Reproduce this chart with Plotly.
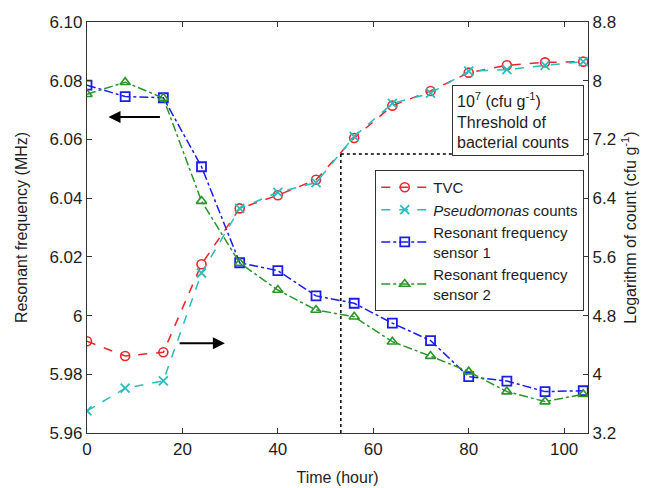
import plotly.graph_objects as go

# Storage time (hours)
hours = [0, 8, 16, 24, 32, 40, 48, 56, 64, 72, 80, 88, 96, 104]

# Log10 bacterial counts (cfu g^-1)
tvc = [4.45, 4.25, 4.30, 5.50, 6.26, 6.44, 6.65, 7.22, 7.66, 7.86, 8.11, 8.21, 8.25, 8.26]
pseudomonas = [3.50, 3.81, 3.91, 5.38, 6.26, 6.48, 6.61, 7.24, 7.69, 7.83, 8.13, 8.15, 8.21, 8.26]

# Resonant frequency (MHz)
sensor1 = [6.0785, 6.0746, 6.0742, 6.0507, 6.0180, 6.0153, 6.0067, 6.0042,
           5.9974, 5.9915, 5.9792, 5.9777, 5.9741, 5.9744]
sensor2 = [6.0754, 6.0795, 6.0741, 6.0390, 6.0179, 6.0087, 6.0019, 5.9996,
           5.9911, 5.9862, 5.9809, 5.9741, 5.9707, 5.9732]

# Threshold of bacterial counts: 10^7 cfu/g -> log 7, reached at ~53 h
threshold_log = 7.0
threshold_hour = 53.2

freq_ticks = [5.96, 5.98, 6.00, 6.02, 6.04, 6.06, 6.08, 6.10]
freq_labels = ["5.96", "5.98", "6", "6.02", "6.04", "6.06", "6.08", "6.10"]
count_ticks = [3.2, 4.0, 4.8, 5.6, 6.4, 7.2, 8.0, 8.8]
count_labels = ["3.2", "4", "4.8", "5.6", "6.4", "7.2", "8", "8.8"]
hour_ticks = [0, 20, 40, 60, 80, 100]

FONT = "Liberation Sans, Arial, sans-serif"
TEXT = "#1e1e1e"
RED = "#e8282c"
CYAN = "#2bbcbc"
BLUE = "#1c1cf0"
GREEN = "#2a962a"

fig = go.Figure()

fig.add_trace(go.Scatter(
    x=hours, y=tvc, yaxis="y2", name="TVC", mode="lines+markers",
    line=dict(color=RED, width=1.5, dash="dash"),
    marker=dict(symbol="circle-open", size=9, color=RED, line=dict(width=1.6)),
))
fig.add_trace(go.Scatter(
    x=hours, y=pseudomonas, yaxis="y2", name="<i>Pseudomonas</i> counts",
    mode="lines+markers",
    line=dict(color=CYAN, width=1.5, dash="dash"),
    marker=dict(symbol="x-thin-open", size=9, color=CYAN, line=dict(width=1.8, color=CYAN)),
))
fig.add_trace(go.Scatter(
    x=hours, y=sensor1, yaxis="y", name="Resonant frequency<br>sensor 1",
    mode="lines+markers",
    line=dict(color=BLUE, width=1.5, dash="dashdot"),
    marker=dict(symbol="square-open", size=9, color=BLUE, line=dict(width=1.8)),
))
fig.add_trace(go.Scatter(
    x=hours, y=sensor2, yaxis="y", name="Resonant frequency<br>sensor 2",
    mode="lines+markers",
    line=dict(color=GREEN, width=1.5, dash="dashdot"),
    marker=dict(symbol="triangle-up-open", size=9, color=GREEN, line=dict(width=1.6)),
))

# Dotted threshold guide lines
fig.add_shape(type="line", xref="x", yref="y2", x0=threshold_hour, x1=threshold_hour,
              y0=3.2, y1=threshold_log, line=dict(color="black", width=1.5, dash="dot"))
fig.add_shape(type="line", xref="x", yref="y2", x0=threshold_hour, x1=105,
              y0=threshold_log, y1=threshold_log, line=dict(color="black", width=1.5, dash="dot"))

annotations = [
    dict(xref="paper", yref="paper", x=0.9925, y=0.847, xanchor="right", yanchor="top",
         text="10<sup>7</sup> (cfu g<sup>-1</sup>)<br>Threshold of<br>bacterial counts",
         align="left", width=122, showarrow=False, bordercolor="#333", borderwidth=1,
         borderpad=4, bgcolor="white", font=dict(family=FONT, size=16, color=TEXT)),
    # Arrows indicating which axis each pair of curves uses
    dict(xref="x", yref="y", x=4.5, y=6.0676, ax=15.6, ay=6.0676, axref="x", ayref="y",
         showarrow=True, arrowhead=2, arrowsize=1.2, arrowwidth=2, arrowcolor="black", text=""),
    dict(xref="x", yref="y", x=28.9, y=5.9906, ax=19.1, ay=5.9906, axref="x", ayref="y",
         showarrow=True, arrowhead=2, arrowsize=1.2, arrowwidth=2, arrowcolor="black", text=""),
]

axis_common = dict(showline=True, linecolor="#333", linewidth=1.2, ticks="inside",
                   ticklen=5, tickcolor="#333", showgrid=False, zeroline=False,
                   automargin=False,
                   tickfont=dict(family=FONT, size=17, color=TEXT))

fig.update_layout(
    width=652, height=488,
    margin=dict(l=87, r=64, t=22, b=55),
    plot_bgcolor="white", paper_bgcolor="white",
    font=dict(family=FONT, size=16, color=TEXT),
    xaxis=dict(range=[0, 105], tickvals=hour_ticks, mirror="ticks",
               title=dict(text="Time (hour)", font=dict(size=16), standoff=14),
               **axis_common),
    yaxis=dict(range=[5.96, 6.10], tickvals=freq_ticks, ticktext=freq_labels,
               title=dict(text="Resonant frequency (MHz)", font=dict(size=16), standoff=17),
               **axis_common),
    yaxis2=dict(range=[3.2, 8.8], tickvals=count_ticks, ticktext=count_labels,
                overlaying="y", side="right",
                title=dict(text="Logarithm of count (cfu g<sup>-1</sup>)", font=dict(size=16), standoff=9),
                **axis_common),
    legend=dict(x=0.9925, y=0.64, xanchor="right", yanchor="top",
                bordercolor="#333", borderwidth=1, bgcolor="white",
                font=dict(family=FONT, size=15, color=TEXT),
                tracegroupgap=0, itemwidth=47),
    annotations=annotations,
    showlegend=True,
)

fig.write_html("out.html")
